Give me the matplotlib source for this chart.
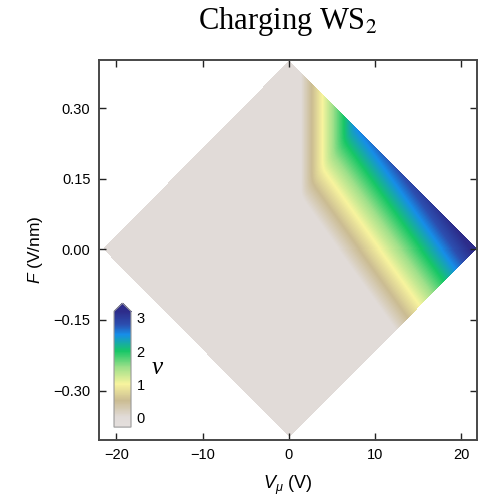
import numpy as np
import matplotlib
matplotlib.use("Agg")
import matplotlib.pyplot as plt
from matplotlib.colors import LinearSegmentedColormap, Normalize

# Gate-voltage window (diamond) in V_mu and displacement field F
V_LEFT, V_RIGHT = -21.6, 21.75   # V
F_LIMIT = 0.40                   # V/nm

# Filling-factor model: two linear charging branches, nu = min(branch1, branch2)
# branch 1: contours at constant V_mu (upper region)
B1_ONSET = 1.35     # V where branch 1 reaches nu = 0
B1_STEP = 2.5       # V per unit filling
# branch 2: contours tilted with F (lower region)
B2_ONSET = 5.68     # V where branch 2 reaches nu = 0 at F = 0
B2_TILT = 39.0      # V per V/nm
B2_STEP = 4.8       # V per unit filling

# Colour scale for nu
nu_stops = [-0.3, 0.0, 0.5, 1.0, 1.5, 2.0, 2.5, 2.8, 3.2]
nu_colors = ["#e4dfdd", "#e1dbd8", "#cbbc92", "#f8f49e", "#9fe08a",
             "#17c766", "#168ee8", "#2c4fb0", "#2d2c8a"]
NU_MIN, NU_MAX = -0.3, 3.2
cbar_ticks = [0, 1, 2, 3]

x_ticks = [-20, -10, 0, 10, 20]
y_ticks = [-0.30, -0.15, 0.00, 0.15, 0.30]
X_LIM = (-22.05, 21.75)
Y_LIM = (-0.405, 0.402)

# ---- filling map, one cell per output pixel ----
V = np.linspace(X_LIM[0], X_LIM[1], 378)
F = np.linspace(Y_LIM[0], Y_LIM[1], 380)
VV, FF = np.meshgrid(V, F)
branch1 = (VV - B1_ONSET) / B1_STEP
branch2 = (VV + B2_TILT * FF - B2_ONSET) / B2_STEP
k = 0.06
nu = -k * np.logaddexp(-branch1 / k, -branch2 / k)
nu = np.clip(nu, 0, None)
v_scale = np.where(VV < 0, -V_LEFT, V_RIGHT)
outside = np.abs(VV) / v_scale + np.abs(FF) / F_LIMIT > 1
nu = np.ma.masked_where(outside, nu)

pos = [(s - NU_MIN) / (NU_MAX - NU_MIN) for s in nu_stops]
cmap = LinearSegmentedColormap.from_list("charging", list(zip(pos, nu_colors)))
cmap.set_over(nu_colors[-1])
cmap.set_bad((1, 1, 1, 0))
norm = Normalize(NU_MIN, NU_MAX)

plt.rcParams["mathtext.fontset"] = "custom"
plt.rcParams["mathtext.it"] = "Liberation Sans:italic"
plt.rcParams["mathtext.rm"] = "Liberation Sans"

fig = plt.figure(figsize=(4.82, 5.03), dpi=100)
ax = fig.add_axes([0.2048, 0.1252, 0.7838, 0.7555])
im = ax.imshow(nu, origin="lower", extent=[X_LIM[0], X_LIM[1], Y_LIM[0], Y_LIM[1]],
               aspect="auto", cmap=cmap, norm=norm, interpolation="nearest")
ax.set_xlim(*X_LIM)
ax.set_ylim(*Y_LIM)

sans = "Liberation Sans"
ax.set_xticks(x_ticks)
ax.set_yticks(y_ticks)
ax.set_yticklabels([f"{t:.2f}".replace("-", "\u2212") for t in y_ticks])
ax.tick_params(direction="in", top=True, right=True, length=5, width=1,
               labelsize=10.5, color="#222222", pad=6)
for lab in ax.get_xticklabels() + ax.get_yticklabels():
    lab.set_family(sans)
for sp in ax.spines.values():
    sp.set_color("#474747")
    sp.set_linewidth(1.4)

ax.set_xlabel(r"$V_{\mu}$ (V)", family=sans, fontsize=13, labelpad=8)
ax.set_ylabel(r"$F$ (V/nm)", family=sans, fontsize=12.5, labelpad=6)

fig.text(0.597, 0.943, r"Charging WS$_2$", family="Liberation Serif",
         fontsize=22, ha="center", va="baseline", math_fontfamily="stix")

# inset colour bar (axes box includes the extension triangle)
cax = ax.inset_axes([0.0405, 0.034, 0.045, 0.326])
cb = fig.colorbar(im, cax=cax, extend="max", extendfrac=0.07, ticks=cbar_ticks)
cb.outline.set_edgecolor("#9a9a9a")
cb.outline.set_linewidth(0.8)
cax.tick_params(length=0, labelsize=10.5, pad=4)
for lab in cax.get_yticklabels():
    lab.set_family(sans)
ax.text(0.155, 0.19, "\u03bd", transform=ax.transAxes, family="Liberation Serif",
        style="italic", fontsize=18, ha="center", va="center")

fig.savefig("out.png", dpi=100)
